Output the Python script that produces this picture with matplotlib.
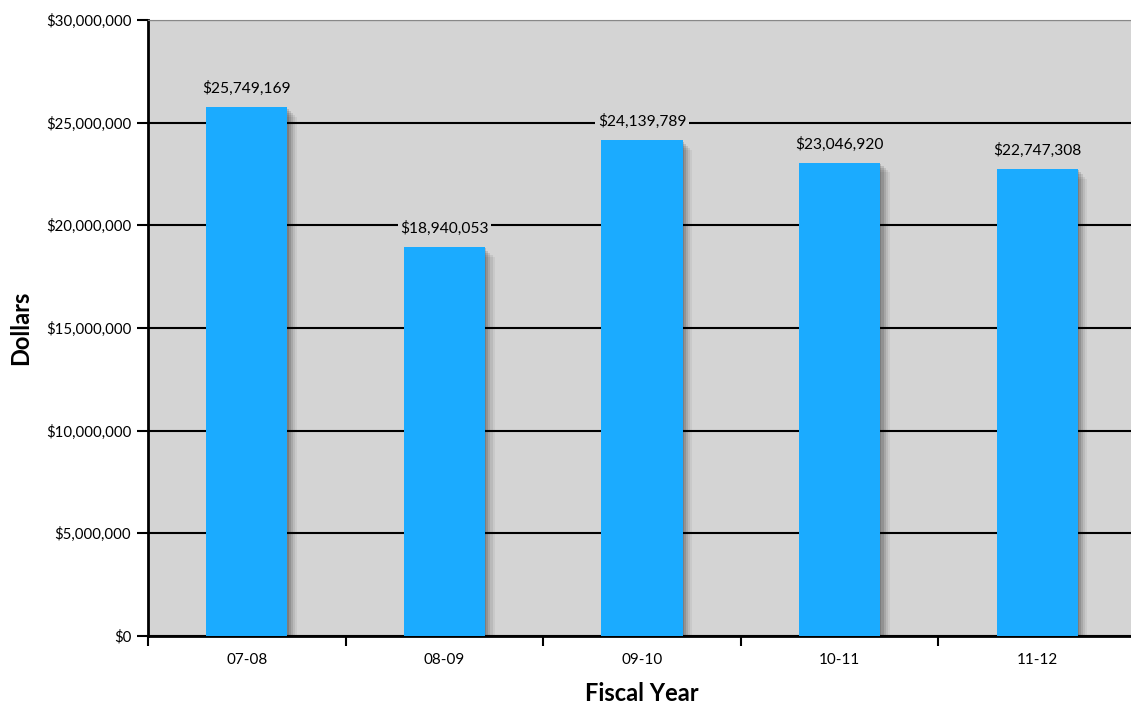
import numpy as np
import matplotlib.pyplot as plt
from matplotlib import patheffects
from matplotlib.ticker import FuncFormatter, MultipleLocator

years = ["07-08", "08-09", "09-10", "10-11", "11-12"]
dollars = [25749169, 18940053, 24139789, 23046920, 22747308]

bar_color = "#1BABFF"
bg_color = "#D4D4D4"

plt.rcParams['font.family'] = ['Lato', 'DejaVu Sans']

fig = plt.figure(figsize=(11.31, 7.06), dpi=100, facecolor='white')
ax = fig.add_axes([148 / 1131, 70 / 706, 988 / 1131, 616 / 706])
ax.set_facecolor(bg_color)

x = np.arange(len(years))

# soft drop shadow built from a few offset layers
shadow = [patheffects.SimplePatchShadow(offset=(d, -d), shadow_rgbFace='black', alpha=a)
          for d, a in [(7, 0.05), (5.5, 0.07), (4, 0.1), (2.5, 0.12), (1, 0.14)]]
bars = ax.bar(x, dollars, width=0.41, color=bar_color, zorder=3,
              path_effects=shadow + [patheffects.Normal()])

for xi, v in zip(x, dollars):
    ax.annotate(f"${v:,.0f}", (xi, v), xytext=(0, 8), textcoords='offset points',
                ha='center', va='bottom', fontsize=11.2, zorder=4,
                bbox=dict(boxstyle='square,pad=0.15', fc=bg_color, ec='none'))

ax.set_ylim(0, 30000000)
ax.set_xlim(-0.5, 4.5)
ax.yaxis.set_major_locator(MultipleLocator(5000000))
ax.yaxis.set_major_formatter(FuncFormatter(lambda v, p: f"${v:,.0f}"))
ax.grid(axis='y', color='black', linewidth=1.5, zorder=1)
ax.set_axisbelow(True)

ax.set_xticks(x)
ax.set_xticklabels(years)
ax.set_xticks(np.arange(-0.5, 5, 1), minor=True)
ax.tick_params(axis='x', which='major', length=0, pad=12, labelsize=11)
ax.tick_params(axis='x', which='minor', length=7, width=1.5, direction='out')
ax.tick_params(axis='y', length=8, width=1.5, direction='out', labelsize=10.8, pad=4)

for side in ['left', 'bottom']:
    ax.spines[side].set_linewidth(2)
ax.spines['top'].set_color('#888888')
ax.spines['right'].set_visible(False)

ax.set_ylabel("Dollars", fontsize=17, fontweight='bold', labelpad=10)
ax.set_xlabel("Fiscal Year", fontsize=17, fontweight='bold', labelpad=11)

fig.savefig("out.png", dpi=100)
